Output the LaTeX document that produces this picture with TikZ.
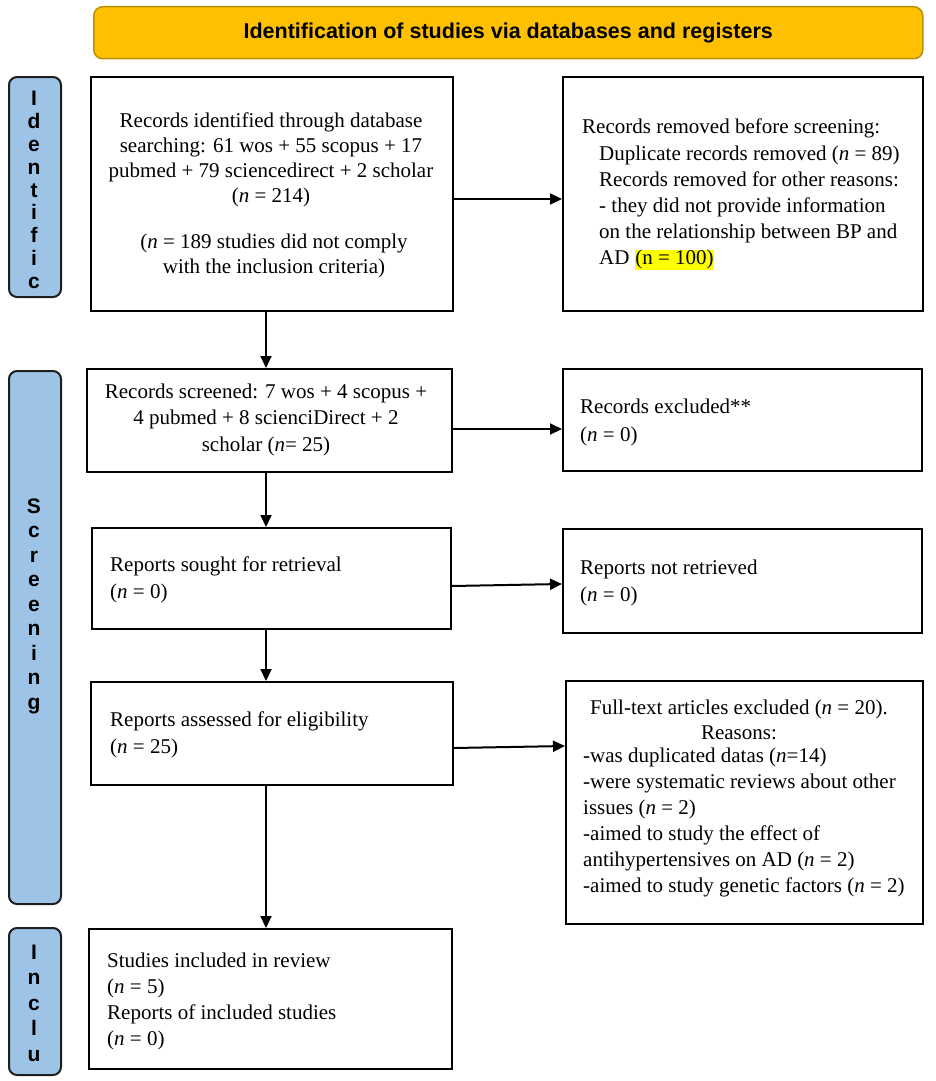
\documentclass[tikz,border=0pt]{standalone}
\usepackage{fontspec}
\setmainfont{Liberation Serif}
\newfontfamily\lsans{Liberation Sans}
\usetikzlibrary{arrows.meta}
\definecolor{bannerfill}{HTML}{FFC000}
\definecolor{bannerdraw}{HTML}{B8900A}
\definecolor{sidefill}{HTML}{9DC3E6}
\definecolor{sidedraw}{HTML}{1F1F1F}
\definecolor{hl}{HTML}{FFFF00}
\setlength{\fboxsep}{0.5pt}
\begin{document}
\begin{tikzpicture}[x=1pt,y=-1pt,
 box/.style={draw=black, line width=2pt, inner sep=0pt, anchor=north west},
 sidebox/.style={draw=sidedraw, fill=sidefill, line width=2pt, rounded corners=8pt, inner sep=0pt, anchor=north west},
 txt/.style={inner sep=0pt, font=\fontsize{21}{26}\selectfont},
 letters/.style={inner sep=0pt, font=\lsans\bfseries\fontsize{21}{24}\selectfont, align=center},
 arr/.style={line width=2pt, -{Triangle[length=12pt,width=11pt]}}]
\useasboundingbox (0,0) rectangle (935,1081);

% banner
\node[draw=bannerdraw, fill=bannerfill, line width=1.5pt, rounded corners=9pt,
      minimum width=829pt, minimum height=52pt, anchor=north west, inner sep=0pt,
      font=\lsans\bfseries\fontsize{21.5}{24}\selectfont] (banner) at (93,6)
      {Identification of studies via databases and registers};

% side labels
\node[sidebox, minimum width=52pt, minimum height=220pt] (sI) at (8,76) {};
\node[letters, font=\lsans\bfseries\fontsize{21}{22.8}\selectfont] (lI) at (34,190) {I\\d\\e\\n\\t\\i\\f\\i\\c};
\node[sidebox, minimum width=52pt, minimum height=533pt] (sS) at (8,370) {};
\node[letters, font=\lsans\bfseries\fontsize{21}{24.5}\selectfont] (lS) at (34,606) {S\\c\\r\\e\\e\\n\\i\\n\\g};
\node[sidebox, minimum width=52pt, minimum height=147pt] (sN) at (8,927) {};
\node[letters, font=\lsans\bfseries\fontsize{21}{25.5}\selectfont] (lN) at (34,1003) {I\\n\\c\\l\\u};

% boxes
\node[box, minimum width=362pt, minimum height=234pt] (b1) at (90,76) {};
\node[box, minimum width=360pt, minimum height=234pt] (b2) at (562,76) {};
\node[box, minimum width=365pt, minimum height=103pt] (b3) at (86,368) {};
\node[box, minimum width=359pt, minimum height=102pt] (b4) at (562,368) {};
\node[box, minimum width=359pt, minimum height=101pt] (b5) at (91,527) {};
\node[box, minimum width=359pt, minimum height=104pt] (b6) at (562,528) {};
\node[box, minimum width=362pt, minimum height=103pt] (b7) at (90,681) {};
\node[box, minimum width=357pt, minimum height=243pt] (b8) at (565,680) {};
\node[box, minimum width=363pt, minimum height=140pt] (b9) at (88,928) {};

% texts
\node[txt, align=center, font=\fontsize{21}{25}\selectfont] (t1a) at (271,160)
  {Records identified through database\\searching: 61 wos + 55 scopus + 17\\pubmed + 79 sciencedirect + 2 scholar\\(\textit{n} = 214)};
\node[txt, align=center, font=\fontsize{21}{25}\selectfont] (t1b) at (274,256)
  {(\textit{n} = 189 studies did not comply\\with the inclusion criteria)};
\node[txt, align=left, anchor=west, font=\fontsize{21}{26.2}\selectfont] (t2) at (582,194.5)
  {Records removed before screening:\\
   \hspace*{17pt}Duplicate records removed (\textit{n} = 89)\\
   \hspace*{17pt}Records removed for other reasons:\\
   \hspace*{17pt}- they did not provide information\\
   \hspace*{17pt}on the relationship between BP and\\
   \hspace*{17pt}AD \colorbox{hl}{(n = 100)}};
\node[txt, align=center, font=\fontsize{21}{26.5}\selectfont] (t3) at (266,419.5)
  {Records screened: 7 wos + 4 scopus +\\4 pubmed + 8 scienciDirect + 2\\scholar (\textit{n}= 25)};
\node[txt, align=left, anchor=west, font=\fontsize{21}{28}\selectfont] (t4) at (580,422)
  {Records excluded**\\(\textit{n} = 0)};
\node[txt, align=left, anchor=west, font=\fontsize{21}{27}\selectfont] (t5) at (110,579.5)
  {Reports sought for retrieval\\(\textit{n} = 0)};
\node[txt, align=left, anchor=west, font=\fontsize{21}{27}\selectfont] (t6) at (580,582.5)
  {Reports not retrieved\\(\textit{n} = 0)};
\node[txt, align=left, anchor=west, font=\fontsize{21}{26.5}\selectfont] (t7) at (110,735)
  {Reports assessed for eligibility\\(\textit{n} = 25)};
\node[txt, align=center, font=\fontsize{21}{25}\selectfont] (t8a) at (739,720)
  {Full-text articles excluded (\textit{n} = 20).\\Reasons:};
\node[txt, align=left, anchor=west, font=\fontsize{21}{26}\selectfont] (t8b) at (583,822)
  {-was duplicated datas (\textit{n}=14)\\
   -were systematic reviews about other\\
   issues (\textit{n} = 2)\\
   -aimed to study the effect of\\
   antihypertensives on AD (\textit{n} = 2)\\
   -aimed to study genetic factors (\textit{n} = 2)};
\node[txt, align=left, anchor=west, font=\fontsize{21}{26}\selectfont] (t9) at (107,1001)
  {Studies included in review\\(\textit{n} = 5)\\Reports of included studies\\(\textit{n} = 0)};

% connectors
\draw[arr] ([xshift=-6pt]b1.south) -- ([xshift=-6pt]b1.south |- b3.north);
\draw[arr] ([xshift=-3.5pt]b3.south) -- ([xshift=-3.5pt]b3.south |- b5.north);
\draw[arr] ([xshift=-5.5pt]b5.south) -- ([xshift=-5.5pt]b5.south |- b7.north);
\draw[arr] ([xshift=-6pt]b7.south) -- ([xshift=-6pt]b7.south |- b9.north);
\draw[arr] ([yshift=-5pt]b1.east) -- ([yshift=-5pt]b1.east -| b2.west);
\draw[arr] ([yshift=-8.5pt]b3.east) -- ([yshift=-8.5pt]b3.east -| b4.west);
\draw[arr] ([yshift=-7.5pt]b5.east) -- ([yshift=-5.5pt]b5.east -| b6.west);
\draw[arr] ([yshift=-14.5pt]b7.east) -- ([yshift=-12.5pt]b7.east -| b8.west);
\end{tikzpicture}
\end{document}
